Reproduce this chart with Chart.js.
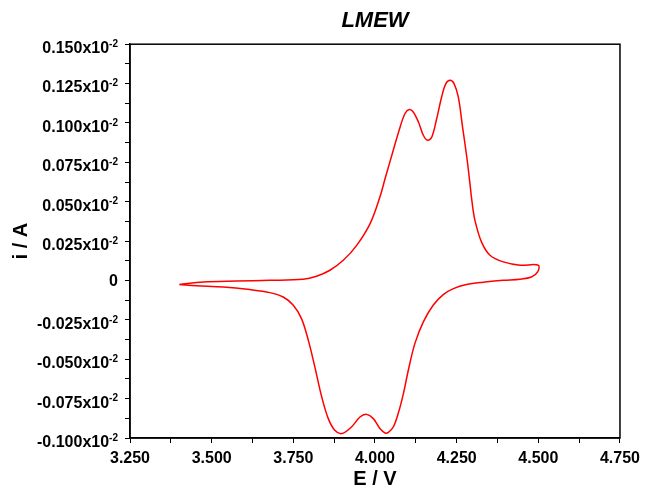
<!DOCTYPE html>
<html>
<head>
<meta charset="utf-8">
<script src="https://cdn.jsdelivr.net/npm/chart.js@4.4.1/dist/chart.umd.min.js"></script>
<style>
  body { margin: 0; background: #fff; }
  canvas { display: block; }
</style>
</head>
<body>
<canvas id="cvChart" width="646" height="488"></canvas>
<script>
// potential (V) and current (x10^-2 A), forward scan 3.4 -> 4.5 V
var eAnodic = [3.401, 3.474, 3.576, 3.678, 3.780, 3.821, 3.862, 3.903, 3.944, 3.985,
               4.015, 4.031, 4.056, 4.077, 4.092, 4.105, 4.117, 4.133, 4.148, 4.161,
               4.174, 4.189, 4.204, 4.217, 4.230, 4.242, 4.255, 4.268, 4.281, 4.289,
               4.297, 4.306, 4.326, 4.352, 4.393, 4.444, 4.500];
var iAnodic = [-0.0026, -0.0009, -0.0003, 0.0001, 0.0008, 0.0027, 0.0065, 0.0128, 0.0223, 0.0361,
               0.0530, 0.0647, 0.0827, 0.0975, 0.1060, 0.1085, 0.1070, 0.1006, 0.0922, 0.0890,
               0.0911, 0.1028, 0.1165, 0.1250, 0.1271, 0.1250, 0.1165, 0.0975, 0.0784, 0.0647,
               0.0500, 0.0382, 0.0245, 0.0160, 0.0118, 0.0097, 0.0097];

// reverse scan 4.5 -> 3.4 V
var eCathodic = [4.498, 4.479, 4.444, 4.393, 4.331, 4.280, 4.240, 4.209, 4.178, 4.148,
                 4.122, 4.102, 4.087, 4.071, 4.056, 4.041, 4.031, 4.015, 3.995, 3.974,
                 3.954, 3.928, 3.898, 3.877, 3.857, 3.837, 3.816, 3.796, 3.775, 3.750,
                 3.719, 3.678, 3.617, 3.536, 3.454, 3.401];
var iCathodic = [0.0054, 0.0022, 0.0008, 0.0001, -0.0011, -0.0026, -0.0052, -0.0090, -0.0157, -0.0263,
                 -0.0401, -0.0570, -0.0718, -0.0845, -0.0930, -0.0964, -0.0968, -0.0940, -0.0877, -0.0850,
                 -0.0867, -0.0930, -0.0972, -0.0951, -0.0877, -0.0740, -0.0550, -0.0380, -0.0242, -0.0157,
                 -0.0105, -0.0077, -0.0058, -0.0041, -0.0033, -0.0026];

var xTickValues = [3.25, 3.5, 3.75, 4.0, 4.25, 4.5, 4.75];
var xTickLabels = ['3.250', '3.500', '3.750', '4.000', '4.250', '4.500', '4.750'];
var yTickValues = [0.15, 0.125, 0.1, 0.075, 0.05, 0.025, 0, -0.025, -0.05, -0.075, -0.1];
var yTickLabels = ['0.150', '0.125', '0.100', '0.075', '0.050', '0.025', '0',
                   '-0.025', '-0.050', '-0.075', '-0.100'];

var points = [];
eAnodic.forEach(function(e, k) { points.push({x: e, y: iAnodic[k]}); });
eCathodic.forEach(function(e, k) { points.push({x: e, y: iCathodic[k]}); });

var FONT = '"Liberation Sans", Arial, Helvetica, sans-serif';

// frame round the plot + y labels with superscript exponent
var framePlugin = {
    id: 'frame',
    afterDraw: function(chart) {
        var ctx = chart.ctx, a = chart.chartArea, ys = chart.scales.y;
        ctx.save();
        ctx.strokeStyle = '#000';
        ctx.lineWidth = 1.5;
        ctx.strokeRect(a.left, a.top, a.right - a.left, a.bottom - a.top);

        ctx.fillStyle = '#000';
        ctx.textBaseline = 'middle';
        ctx.textAlign = 'right';
        var right = 118;
        yTickValues.forEach(function(v, k) {
            var py = ys.getPixelForValue(v);
            var txt = yTickLabels[k];
            if (txt === '0') {
                ctx.font = 'bold 16px ' + FONT;
                ctx.fillText('0', right, py + 1.5);
                return;
            }
            ctx.font = 'bold 10px ' + FONT;
            var supW = ctx.measureText('-2').width;
            ctx.fillText('-2', right, py);
            ctx.font = 'bold 16px ' + FONT;
            ctx.fillText(txt + 'x10', right - supW, py + 4.5);
        });
        ctx.restore();
    }
};

var cvChart = new Chart(document.getElementById('cvChart'), {
    type: 'scatter',
    data: {
        datasets: [{
            data: points,
            showLine: true,
            borderColor: '#ff0000',
            borderWidth: 1.5,
            pointRadius: 0,
            tension: 0.35,
            fill: false
        }]
    },
    options: {
        responsive: false,
        animation: false,
        layout: { padding: { left: 0, right: 26, top: 0, bottom: 0 } },
        plugins: {
            legend: { display: false },
            tooltip: { enabled: false },
            title: {
                display: true,
                text: 'LMEW',
                fullSize: false,
                color: '#000',
                font: { family: FONT, size: 22, weight: 'bold', style: 'italic', lineHeight: 1.1 },
                padding: { top: 9, bottom: 11 }
            }
        },
        scales: {
            x: {
                type: 'linear',
                min: 3.25,
                max: 4.75,
                ticks: {
                    stepSize: 0.125,
                    maxRotation: 0,
                    autoSkip: false,
                    color: '#000',
                    padding: 6,
                    font: { family: FONT, size: 16, weight: 'bold' },
                    callback: function(v) {
                        var k = xTickValues.findIndex(function(t) { return Math.abs(t - v) < 1e-6; });
                        return k >= 0 ? xTickLabels[k] : '';
                    }
                },
                grid: { drawOnChartArea: false, tickLength: 5, color: '#000', lineWidth: 1 },
                border: { color: '#000', width: 1.5 },
                title: {
                    display: true,
                    text: 'E / V',
                    color: '#000',
                    font: { family: FONT, size: 20, weight: 'bold', lineHeight: 0.9 },
                    padding: { top: 0, bottom: 0 }
                },
                afterFit: function(scale) { scale.height = 50; }
            },
            y: {
                min: -0.1,
                max: 0.15,
                ticks: {
                    stepSize: 0.0125,
                    autoSkip: false,
                    callback: function() { return ''; }
                },
                grid: { drawOnChartArea: false, tickLength: 5, color: '#000', lineWidth: 1 },
                border: { color: '#000', width: 1.5 },
                title: {
                    display: true,
                    text: 'i / A',
                    color: '#000',
                    font: { family: FONT, size: 20, weight: 'bold' },
                    padding: { top: 9, bottom: 0 }
                },
                afterFit: function(scale) { scale.width = 130; }
            }
        }
    },
    plugins: [framePlugin]
});
</script>
</body>
</html>
